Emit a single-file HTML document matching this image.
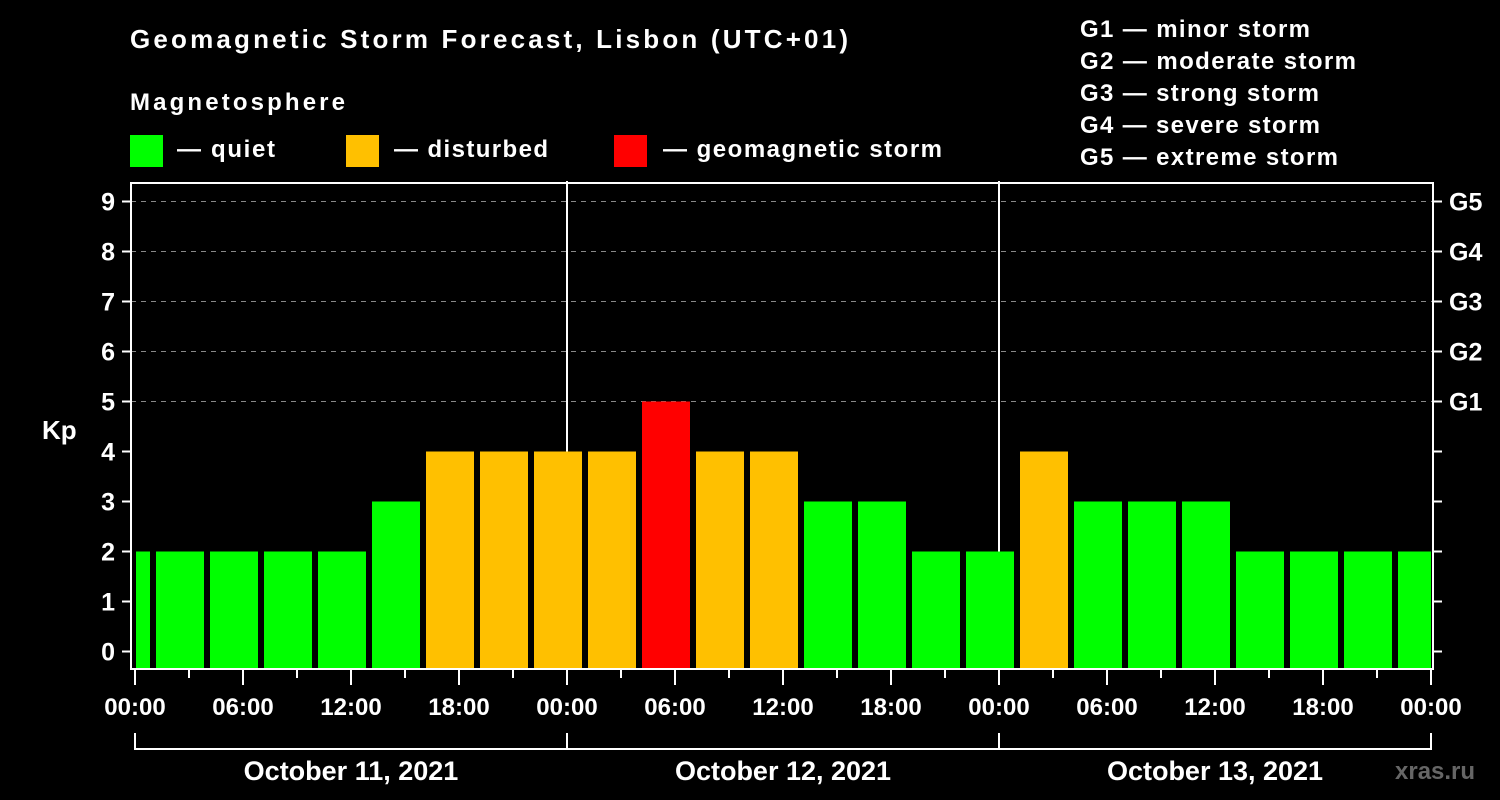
<!DOCTYPE html>
<html><head><meta charset="utf-8"><style>
html,body{margin:0;padding:0;background:#000;}
svg{display:block;font-family:"Liberation Sans",Arial,sans-serif;font-weight:bold;}
</style></head><body>
<svg id="chart" width="1500" height="800" xmlns="http://www.w3.org/2000/svg">
<rect x="0" y="0" width="1500" height="800" fill="#000"/>
<text x="130" y="48" fill="#fff" font-size="26" textLength="718">Geomagnetic Storm Forecast, Lisbon (UTC+01)</text>
<text x="130" y="110" fill="#fff" font-size="24" textLength="215">Magnetosphere</text>
<g><rect x="130" y="135" width="33" height="32" fill="#00ff00"/><text x="177" y="157" fill="#fff" font-size="24" textLength="98">— quiet</text></g>
<g><rect x="346" y="135" width="33" height="32" fill="#ffc000"/><text x="394" y="157" fill="#fff" font-size="24" textLength="154">— disturbed</text></g>
<g><rect x="614" y="135" width="33" height="32" fill="#ff0000"/><text x="663" y="157" fill="#fff" font-size="24" textLength="279">— geomagnetic storm</text></g>
<g fill="#fff" font-size="24">
<text x="1080" y="37" textLength="230">G1 — minor storm</text>
<text x="1080" y="69" textLength="276">G2 — moderate storm</text>
<text x="1080" y="101" textLength="239">G3 — strong storm</text>
<text x="1080" y="133" textLength="240">G4 — severe storm</text>
<text x="1080" y="165" textLength="258">G5 — extreme storm</text>
</g>
<text x="42" y="439" fill="#fff" font-size="26">Kp</text>
<text x="1395" y="779" fill="#666" font-size="24">xras.ru</text>
<g id="plot"></g>
</svg>
<script>
const kpValues = [2,2,2,2,2,3,4,4,4,4,5,4,4,3,3,2,2,4,3,3,3,2,2,2,2];
const yTicks = [0,1,2,3,4,5,6,7,8,9];
const gLabels = ["G1","G2","G3","G4","G5"];
const gLevels = [5,6,7,8,9];
const timeLabels = ["00:00","06:00","12:00","18:00","00:00","06:00","12:00","18:00","00:00","06:00","12:00","18:00","00:00"];
const dateLabels = ["October 11, 2021","October 12, 2021","October 13, 2021"];

const NS="http://www.w3.org/2000/svg";
const PL=131, PR=1433, PT=183, PB=669;
const X0=135, PXH=18; // px per hour
const xOf = h => X0 + h*PXH;
const yOf = v => 651.5 - v*50;
const g=document.getElementById('plot');
function mk(t,a,p){const e=document.createElementNS(NS,t);for(const k in a)e.setAttribute(k,a[k]);(p||g).appendChild(e);return e;}

// grid
gLevels.forEach((v,i)=>{
  const l=mk('line',{x1:PL,x2:PR,y1:yOf(v),y2:yOf(v),stroke:'#888','stroke-width':1,'stroke-dasharray':'5,5'});
  
  
  const t=mk('text',{x:1449,y:yOf(v)+9,fill:'#fff','font-size':25});
  t.textContent=gLabels[i];
  
  
});
// day separators
[1,2].forEach(d=>{
  const l=mk('line',{x1:xOf(d*24),x2:xOf(d*24),y1:PT-2,y2:PB,stroke:'#fff','stroke-width':2});
  
  
});
// bars: 3-hour UTC slots shifted +1h local, first slot starts at -2h
kpValues.forEach((v,i)=>{
  let s=-2+i*3, e=s+3;
  let x1=xOf(s)+3, x2=xOf(e)-3;
  x1=Math.max(x1,PL+5); x2=Math.min(x2,PR-2);
  const col=v>=5?'#ff0000':(v>=4?'#ffc000':'#00ff00');
  const r=mk('rect',{x:x1,y:yOf(v),width:x2-x1,height:PB-yOf(v),fill:col});
  
  
});
// frame
const fr=mk('rect',{x:PL,y:PT,width:PR-PL,height:PB-PT,fill:'none',stroke:'#fff','stroke-width':2});


// y ticks
yTicks.forEach(v=>{
  mk('line',{x1:122,x2:PL,y1:yOf(v),y2:yOf(v),stroke:'#fff','stroke-width':2});
  mk('line',{x1:PR,x2:1442,y1:yOf(v),y2:yOf(v),stroke:'#fff','stroke-width':2});
  const t=mk('text',{x:115,y:yOf(v)+9,fill:'#fff','font-size':25,'text-anchor':'end'});
  t.textContent=v;
  
  
});
// x ticks
for(let h=0;h<=72;h+=3){
  const major=h%6===0;
  mk('line',{x1:xOf(h),x2:xOf(h),y1:PB,y2:major?685:678,stroke:'#fff','stroke-width':2});
}
timeLabels.forEach((s,i)=>{
  const t=mk('text',{x:xOf(i*6),y:715,fill:'#fff','font-size':24,'text-anchor':'middle'});
  t.textContent=s;
  
  
});
// date bracket
mk('line',{x1:xOf(0),x2:xOf(72),y1:749,y2:749,stroke:'#fff','stroke-width':2});
for(let d=0;d<=3;d++) mk('line',{x1:xOf(d*24),x2:xOf(d*24),y1:733,y2:750,stroke:'#fff','stroke-width':2});
dateLabels.forEach((s,i)=>{
  const t=mk('text',{x:xOf(i*24+12),y:780,fill:'#fff','font-size':27,'text-anchor':'middle'});
  t.textContent=s;
  
  
});
</script>
</body></html>
